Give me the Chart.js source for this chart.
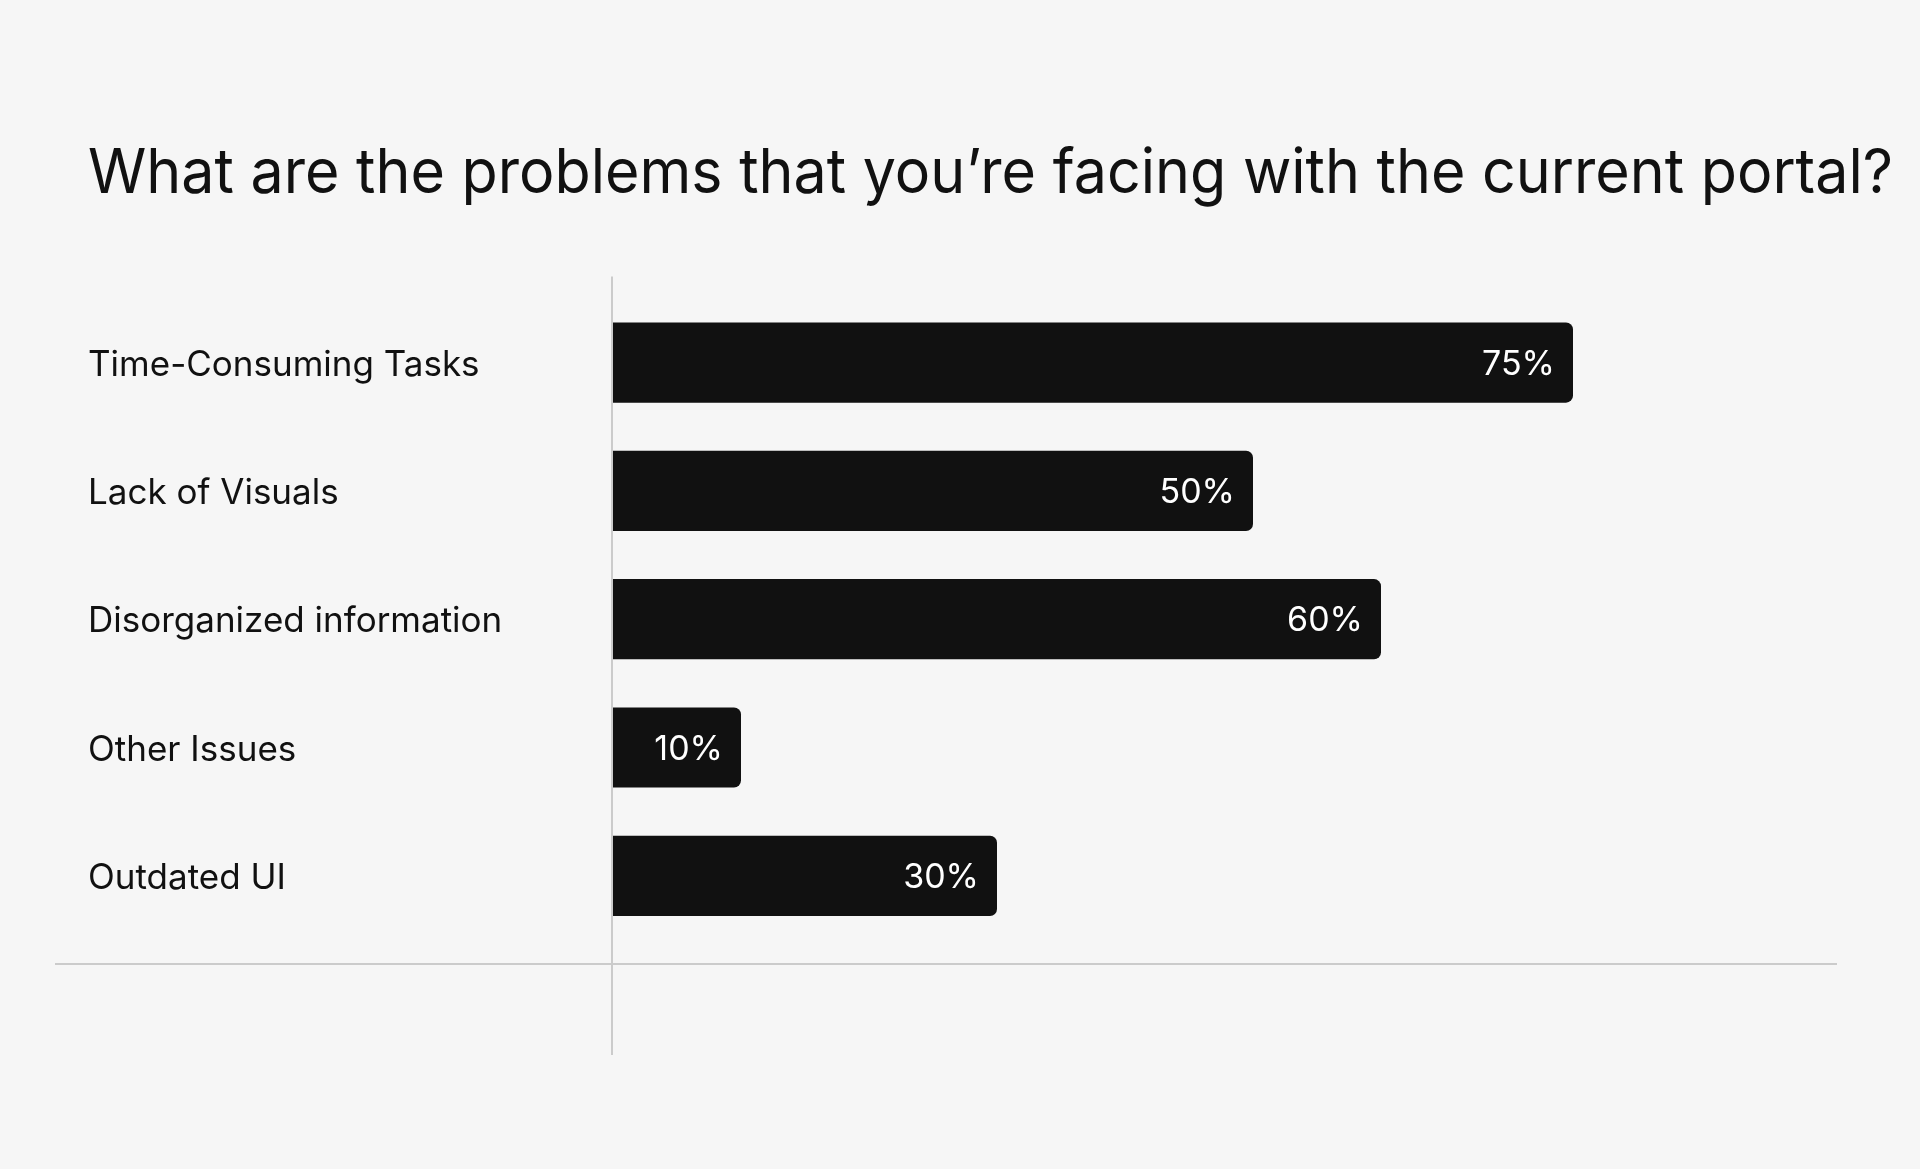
<!DOCTYPE html>
<html>
<head>
<meta charset="utf-8">
<script src="https://cdn.jsdelivr.net/npm/chart.js@4.4.1/dist/chart.umd.min.js"></script>
<style>
  html, body { margin: 0; padding: 0; background: #f6f6f6; }
  #wrap { width: 1920px; height: 1169px; }
</style>
</head>
<body>
<div id="wrap"><canvas id="myChart"></canvas></div>
<script>
// chart data
const titleText = 'What are the problems that you\u2019re facing with the current portal?';
const categories = ['Time-Consuming Tasks', 'Lack of Visuals', 'Disorganized information', 'Other Issues', 'Outdated UI'];
const shares = [75, 50, 60, 10, 30];

const FONT = 'Inter';
const INK = '#111111';

// value labels inside the bar ends
const valueLabels = {
  id: 'valueLabels',
  afterDatasetsDraw(chart) {
    const ctx = chart.ctx;
    const meta = chart.getDatasetMeta(0);
    ctx.save();
    ctx.fillStyle = '#ffffff';
    ctx.font = '34px ' + FONT;
    ctx.textAlign = 'right';
    ctx.textBaseline = 'middle';
    meta.data.forEach((bar, i) => {
      ctx.fillText(shares[i] + '%', bar.x - 18, bar.y + 2);
    });
    ctx.restore();
  }
};

// thin grey axis lines, the horizontal one runs past the plot on the left
const axisLines = {
  id: 'axisLines',
  beforeDatasetsDraw(chart) {
    const ctx = chart.ctx;
    const area = chart.chartArea;
    const x0 = chart.scales.x.getPixelForValue(0) - 1;
    ctx.save();
    ctx.strokeStyle = '#cbcbcb';
    ctx.lineWidth = 2;
    ctx.beginPath();
    ctx.moveTo(x0, area.top - 22);
    ctx.lineTo(x0, area.bottom + 115);
    ctx.moveTo(55, area.bottom + 24);
    ctx.lineTo(area.right - 56, area.bottom + 24);
    ctx.stroke();
    ctx.restore();
  }
};

const data = {
  labels: categories,
  datasets: [{
    data: shares,
    backgroundColor: INK,
    borderRadius: 7,
    borderSkipped: 'start',
    categoryPercentage: 1,
    barPercentage: 0.625
  }]
};

const config = {
  type: 'bar',
  data: data,
  options: {
    indexAxis: 'y',
    responsive: true,
    maintainAspectRatio: false,
    animation: false,
    layout: { padding: { left: 88, right: 27, top: 0, bottom: 229 } },
    plugins: {
      legend: { display: false },
      tooltip: { enabled: false },
      title: {
        display: true,
        text: titleText,
        align: 'start',
        color: INK,
        font: { family: FONT, size: 62, weight: '400', lineHeight: 1.2 },
        padding: { top: 137, bottom: 87 }
      }
    },
    scales: {
      x: { display: false, min: 0, max: 100 },
      y: {
        grid: { display: false },
        border: { display: false },
        ticks: {
          color: INK,
          crossAlign: 'far',
          padding: 0,
          labelOffset: 2.5,
          font: { family: FONT, size: 35 }
        },
        afterFit(scale) { scale.width = 525; }
      }
    }
  },
  plugins: [axisLines, valueLabels]
};

const myChart = new Chart(document.getElementById('myChart'), config);
</script>
</body>
</html>
